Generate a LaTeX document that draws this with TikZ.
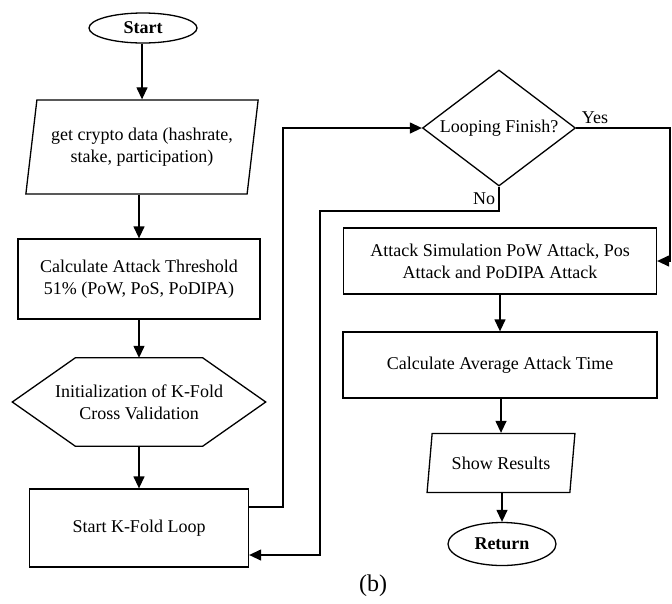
\documentclass[tikz,border=0pt]{standalone}
\usepackage{fontspec}
\setmainfont{Liberation Serif}
\usetikzlibrary{shapes.geometric,arrows.meta}

\tikzset{
  every node/.style={font=\fontsize{18}{22}\selectfont},
  box/.style={draw, line width=1.3pt, align=center, inner sep=0pt},
  procbox/.style={box, rectangle},
  termbox/.style={box, ellipse, minimum width=108pt,
    font=\fontsize{18}{22}\selectfont\bfseries},
  iobox/.style={box, trapezium, trapezium stretches=true},
  arr/.style={line width=1.3pt, -{Triangle[length=12pt,width=11pt]}},
  link/.style={line width=1.3pt}
}

\begin{document}
\begin{tikzpicture}[x=1pt, y=-1pt]
    \useasboundingbox (0,0) rectangle (672,603);

    % left column
    \node[termbox, minimum height=30pt] (start) at (143,28) {Start};
    \node[iobox, trapezium left angle=76, trapezium right angle=104,
      minimum width=233pt, minimum height=94pt] (data) at (142,147)
      {get crypto data (hashrate,\\stake, participation)};
    \node[procbox, minimum width=242pt, minimum height=80pt] (thresh) at (139,279)
      {Calculate Attack Threshold\\51\% (PoW, PoS, PoDIPA)};
    \node[align=center, inner sep=0pt, minimum width=253pt, minimum height=88pt]
      (init) at (139,402) {Initialization of K-Fold\\Cross Validation};
    \draw[link] (init.west) -- ([xshift=63pt]init.north west)
      -- ([xshift=-63pt]init.north east) -- (init.east)
      -- ([xshift=-63pt]init.south east) -- ([xshift=63pt]init.south west)
      -- cycle;
    \node[procbox, minimum width=219pt, minimum height=78pt] (loop) at (139,528)
      {Start K-Fold Loop};

    % right column
    \node[box, diamond, aspect=1.32, minimum width=153pt, minimum height=116pt]
      (check) at (499,128) {Looping Finish?};
    \node[procbox, minimum width=313pt, minimum height=66pt] (sim) at (500,261)
      {Attack Simulation PoW Attack, Pos\\Attack and PoDIPA Attack};
    \node[procbox, minimum width=314pt, minimum height=66pt] (avg) at (500,365)
      {Calculate Average Attack Time};
    \node[iobox, trapezium left angle=74, trapezium right angle=106,
      minimum width=148pt, minimum height=59pt] (show) at (501,463)
      {Show Results};
    \node[termbox, minimum height=43pt] (ret) at (502,544) {Return};

    % caption
    \node[font=\fontsize{24}{28}\selectfont] (cap) at (373,586) {(b)};

    % straight arrows
    \foreach \a/\b in {start/data, data/thresh, thresh/init, init/loop,
                       sim/avg, avg/show, show/ret}
      \draw[arr] (\b.north |- \a.south) -- (\b.north);

    % loop lines
    \coordinate (upline) at (283,507);
    \coordinate (noline) at (320,211);
    \draw[arr] ([yshift=21pt]loop.east) -- (upline) |- (check.west);
    \draw[arr] (check.south) -- node[left] {No} (check.south |- noline)
      -- (noline) |- ([yshift=-27pt]loop.east);
    \draw[arr] (check.east) -- node[pos=0.2, above] {Yes} (670,128) |- (sim.east);
  \end{tikzpicture}
\end{document}
